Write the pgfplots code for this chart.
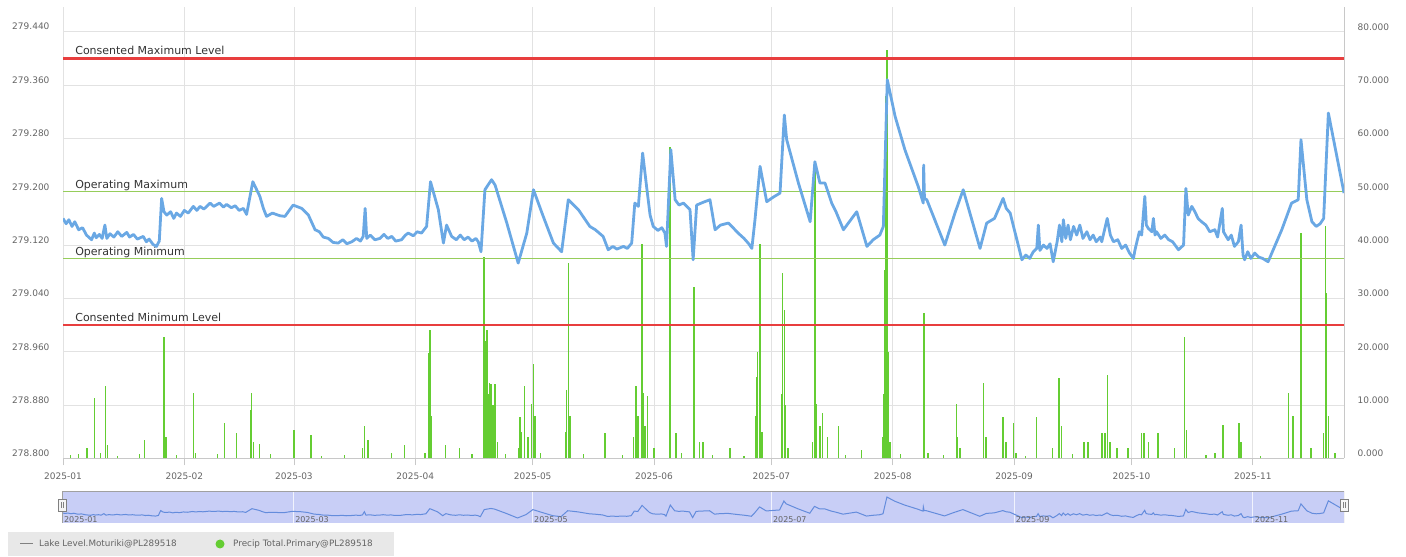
\documentclass[border=0pt]{standalone}
\usepackage{pgfplots}
\usepackage{pgfplotstable}
\pgfplotsset{compat=1.18}
\usepackage{fontspec}
\setmainfont{DejaVu Sans}
\definecolor{lakeblue}{RGB}{106,168,228}
\definecolor{navblue}{RGB}{100,140,220}
\definecolor{rainG}{RGB}{100,205,50}
\definecolor{redline}{RGB}{232,62,62}
\definecolor{opline}{RGB}{150,205,90}
\definecolor{gridc}{RGB}{226,226,226}
\definecolor{axisc}{RGB}{200,200,200}
\definecolor{tickc}{RGB}{100,100,100}
\definecolor{navfill}{RGB}{200,206,246}
\definecolor{legfill}{RGB}{232,232,232}

\pgfplotstableread{
x y
0.0 279.160
0.8 279.152
1.5 279.158
2.3 279.148
3.0 279.155
4.0 279.143
5.0 279.146
6.0 279.135
7.3 279.128
8.0 279.138
8.5 279.131
9.3 279.136
10.0 279.130
10.7 279.150
11.2 279.130
12.0 279.137
13.0 279.132
14.0 279.140
15.0 279.133
16.3 279.139
17.0 279.132
18.0 279.136
19.0 279.129
20.5 279.133
21.3 279.125
22.0 279.129
23.0 279.121
23.9 279.118
24.6 279.126
25.2 279.190
25.8 279.170
26.5 279.165
27.5 279.170
28.3 279.160
29.0 279.168
30.0 279.163
31.0 279.172
32.0 279.168
33.3 279.178
34.2 279.172
35.0 279.178
36.0 279.174
37.6 279.183
38.5 279.178
40.0 279.183
41.0 279.177
41.8 279.181
43.0 279.176
44.0 279.179
45.0 279.172
46.1 279.175
46.9 279.166
48.5 279.215
50.3 279.193
51.2 279.175
52.0 279.163
53.5 279.168
55.4 279.164
56.7 279.163
58.8 279.180
61.0 279.175
62.7 279.165
64.4 279.143
65.5 279.140
66.5 279.132
67.8 279.130
69.0 279.124
70.3 279.123
71.5 279.128
72.5 279.122
73.8 279.125
75.0 279.130
76.0 279.126
76.7 279.133
77.2 279.175
77.6 279.130
78.5 279.135
79.7 279.128
81.0 279.130
82.0 279.136
83.0 279.130
84.0 279.133
85.0 279.126
86.5 279.128
87.5 279.135
88.2 279.138
89.5 279.134
90.5 279.140
91.6 279.138
92.9 279.148
93.9 279.215
95.9 279.173
97.2 279.123
98.0 279.150
99.3 279.133
100.5 279.128
101.5 279.135
102.5 279.128
103.5 279.132
104.5 279.126
105.5 279.130
106.1 279.125
106.8 279.110
107.8 279.203
109.5 279.218
110.4 279.210
113.4 279.153
116.3 279.093
118.5 279.138
120.2 279.203
122.7 279.163
125.3 279.123
127.4 279.110
129.1 279.188
131.7 279.173
134.6 279.148
136.0 279.143
138.0 279.133
139.3 279.113
140.5 279.118
141.5 279.114
143.2 279.118
144.2 279.115
145.3 279.123
146.1 279.183
147.0 279.178
148.1 279.258
149.1 279.208
150.0 279.165
150.8 279.148
152.0 279.142
153.0 279.146
153.8 279.138
154.2 279.118
155.3 279.263
156.4 279.188
157.4 279.180
158.5 279.183
160.2 279.173
161.0 279.098
161.9 279.180
163.5 279.184
165.3 279.188
166.6 279.143
168.0 279.150
170.0 279.153
171.2 279.146
172.5 279.138
174.0 279.130
175.2 279.122
176.0 279.115
176.8 279.158
178.1 279.238
179.8 279.185
181.5 279.192
183.2 279.198
184.3 279.315
184.9 279.278
187.9 279.213
190.9 279.155
192.1 279.245
193.4 279.213
194.7 279.213
196.4 279.183
197.5 279.170
199.4 279.143
202.8 279.170
205.4 279.118
207.0 279.128
208.7 279.135
209.6 279.148
210.6 279.368
212.6 279.313
215.1 279.263
218.5 279.208
219.8 279.183
219.9 279.240
220.1 279.190
220.7 279.188
225.3 279.120
228.0 279.170
228.5 279.178
230.0 279.203
234.3 279.115
236.0 279.153
238.0 279.160
240.2 279.190
241.0 279.175
242.0 279.168
245.0 279.098
246.0 279.105
247.0 279.100
247.9 279.110
248.8 279.115
249.2 279.150
249.6 279.112
250.5 279.120
251.4 279.115
252.2 279.122
253.0 279.095
254.0 279.125
254.6 279.150
255.2 279.125
255.6 279.158
256.2 279.130
256.8 279.150
257.4 279.128
258.2 279.148
259.0 279.135
259.8 279.150
260.6 279.130
261.6 279.140
262.4 279.128
263.2 279.135
264.0 279.125
265.0 279.132
265.4 279.125
266.8 279.160
267.6 279.135
268.4 279.125
269.5 279.128
270.5 279.115
271.5 279.120
272.5 279.108
273.5 279.100
273.9 279.113
275.0 279.140
275.6 279.135
276.4 279.193
276.8 279.150
277.3 279.145
278.2 279.140
278.6 279.160
279.0 279.135
279.4 279.140
280.5 279.130
281.5 279.135
282.5 279.128
283.5 279.125
285.0 279.113
286.3 279.120
286.9 279.205
287.5 279.165
288.4 279.178
289.2 279.170
290.0 279.160
290.9 279.155
292.0 279.150
293.0 279.140
294.3 279.143
295.0 279.132
296.2 279.175
296.5 279.140
297.7 279.128
298.5 279.135
299.3 279.118
300.3 279.125
301.0 279.150
301.5 279.105
301.9 279.098
302.7 279.110
303.5 279.100
304.5 279.108
305.5 279.102
306.5 279.100
307.9 279.095
311.4 279.143
313.9 279.183
315.6 279.188
316.3 279.278
317.8 279.188
319.1 279.155
320.2 279.148
321.2 279.152
322.1 279.160
323.3 279.318
325.3 279.258
327.3 279.198
}\lake

\pgfplotstableread{
x y
2.0 0.6
4.0 0.8
6.1 1.9
8.0 11.3
9.5 1.0
10.9 13.5
11.3 2.5
14.0 0.5
19.5 0.8
20.8 3.5
25.7 13.0
25.8 22.8
26.3 4.0
29.0 0.6
33.3 12.2
33.8 1.0
39.5 0.8
41.2 6.6
44.4 4.7
47.9 9.0
48.2 12.2
48.7 3.0
50.2 2.8
53.0 0.8
59.0 5.3
63.4 4.4
66.0 0.5
72.0 0.6
76.5 2.0
77.0 6.0
77.9 3.5
84.0 1.0
87.2 2.5
92.5 1.0
93.5 19.7
93.8 24.1
94.2 8.0
97.8 2.5
101.3 1.9
104.5 0.8
107.4 4.0
107.6 37.8
107.8 22.0
108.3 24.0
108.6 12.0
108.9 14.1
109.1 14.0
109.5 14.0
109.9 10.0
110.4 14.0
111.0 3.0
113.0 0.8
116.3 2.0
116.8 7.8
117.2 5.0
117.9 13.5
118.8 4.0
119.7 10.3
120.2 17.8
120.6 8.0
122.0 1.0
128.5 5.0
128.7 12.8
129.1 36.6
129.5 8.0
133.0 0.8
138.5 4.7
143.0 0.6
145.7 4.0
146.4 13.5
146.9 8.0
147.9 40.3
148.2 12.2
148.7 6.0
149.3 11.7
151.0 2.0
155.1 58.4
155.2 16.5
156.6 4.7
158.0 1.0
161.2 32.2
161.3 14.7
162.7 3.0
163.5 3.0
166.0 0.6
170.4 1.9
174.0 0.5
177.0 8.0
177.2 15.3
177.4 20.0
178.1 40.3
178.6 5.0
183.6 12.0
183.8 34.7
184.3 27.8
184.6 10.0
185.2 2.0
191.5 3.0
192.1 55.3
192.6 10.3
193.4 6.0
194.0 8.5
195.4 4.0
198.1 6.0
200.0 0.6
204.1 1.5
209.5 4.0
209.8 12.0
210.0 35.3
210.3 68.0
210.5 76.6
210.7 45.0
210.9 20.0
211.3 3.0
214.0 0.8
220.0 27.2
221.0 1.0
225.0 0.6
228.3 10.3
228.6 4.0
229.2 2.0
235.1 14.1
235.8 4.0
240.2 7.8
240.9 3.0
242.8 6.6
243.5 1.0
246.0 0.5
248.8 7.8
252.9 2.0
254.5 15.0
255.2 6.0
258.0 0.8
260.9 3.0
261.9 3.0
265.5 4.7
266.2 4.7
266.8 15.7
267.5 3.0
269.3 2.0
272.1 2.0
275.6 4.7
276.2 4.7
277.3 3.0
279.8 4.7
283.9 2.0
286.5 22.8
287.1 5.3
292.0 0.6
294.3 1.0
296.4 6.3
300.5 6.6
301.0 3.0
306.0 0.5
313.1 12.2
314.3 8.0
316.3 42.2
316.5 36.0
318.9 2.0
322.1 4.7
322.6 43.5
322.8 31.0
323.3 8.0
325.0 1.0
}\rain

\begin{document}
\begin{tikzpicture}
\path (0pt,0pt) rectangle (1406pt,557pt);

% precipitation axis (right)
\begin{axis}[
  at={(63pt,98.5pt)}, anchor=south west, scale only axis,
  width=1281pt, height=451.5pt,
  xmin=0, xmax=327.3, ymin=0, ymax=84.65,
  axis x line=bottom, axis y line*=right,
  x axis line style={-, draw=axisc, line width=0.8pt},
  y axis line style={-, draw=axisc, line width=0.8pt},
  xtick={0,31,59,90,120,151,181,212,243,273,304},
  xticklabels={2025-01,2025-02,2025-03,2025-04,2025-05,2025-06,2025-07,2025-08,2025-09,2025-10,2025-11},
  ytick={0,10,20,30,40,50,60,70,80},
  xmajorgrids, ymajorgrids, grid style={draw=gridc, line width=0.8pt},
  xtick style={draw=axisc, line width=0.8pt},
  ytick style={draw=none},
  tick align=outside, major tick length=7pt,
  ticklabel style={font=\fontsize{9}{10}\selectfont, text=tickc},
  xticklabel style={yshift=-4pt},
  yticklabel style={anchor=west, xshift=3pt, yshift=5pt,
    /pgf/number format/fixed, /pgf/number format/fixed zerofill,
    /pgf/number format/precision=3},
  /pgf/number format/assume math mode=true,
  scaled y ticks=false,
]
\addplot[ycomb, draw=rainG, line width=1.3pt, no marks] table {\rain};
\end{axis}

% lake level axis (left)
\begin{axis}[
  at={(63pt,98.5pt)}, anchor=south west, scale only axis,
  width=1281pt, height=451.5pt,
  xmin=0, xmax=327.3, ymin=278.8, ymax=279.477,
  axis x line=none, axis y line*=left,
  y axis line style={draw=none},
  ytick={278.8,278.88,278.96,279.04,279.12,279.2,279.28,279.36,279.44},
  ytick style={draw=none},
  yticklabel style={font=\fontsize{9}{10}\selectfont, text=tickc, anchor=east, xshift=-10pt, yshift=5pt,
    /pgf/number format/fixed, /pgf/number format/fixed zerofill,
    /pgf/number format/precision=3, /pgf/number format/1000 sep={}},
  /pgf/number format/assume math mode=true,
  scaled y ticks=false,
]
\addplot[redline, line width=2.5pt, no marks] coordinates {(0,279.4) (327.3,279.4)};
\addplot[redline, line width=2.5pt, no marks] coordinates {(0,279.0) (327.3,279.0)};
\addplot[opline, line width=1.3pt, no marks] coordinates {(0,279.2) (327.3,279.2)};
\addplot[opline, line width=1.3pt, no marks] coordinates {(0,279.1) (327.3,279.1)};
\node[anchor=base west, inner sep=0pt, font=\fontsize{11}{12}\selectfont, text=black!80, yshift=3.5pt] at (axis cs:3.1,279.4) {Consented Maximum Level};
\node[anchor=base west, inner sep=0pt, font=\fontsize{11}{12}\selectfont, text=black!80, yshift=3pt] at (axis cs:3.1,279.2) {Operating Maximum};
\node[anchor=base west, inner sep=0pt, font=\fontsize{11}{12}\selectfont, text=black!80, yshift=3pt] at (axis cs:3.1,279.1) {Operating Minimum};
\node[anchor=base west, inner sep=0pt, font=\fontsize{11}{12}\selectfont, text=black!80, yshift=3.5pt] at (axis cs:3.1,279.0) {Consented Minimum Level};
\addplot[lakeblue, line width=2.8pt, line join=round, no marks] table {\lake};
\end{axis}

% navigator
\begin{axis}[
  at={(62pt,34pt)}, anchor=south west, scale only axis,
  width=1282pt, height=32pt,
  xmin=0, xmax=327.3, ymin=279.027, ymax=279.447,
  axis line style={draw=none},
  xtick={0,59,120,181,243,304}, ytick=\empty,
  xticklabels={}, xtick style={draw=none},
  xmajorgrids, grid style={draw=white!75!navfill, line width=0.6pt},
  axis background/.style={fill=navfill},
]
\addplot[navblue, line width=1pt, no marks] table {\lake};
\draw[axisc!80!black, line width=0.8pt] (rel axis cs:0,0) rectangle (rel axis cs:1,1);
\node[anchor=west, inner sep=0pt, font=\fontsize{8}{9}\selectfont, text=tickc] at (axis cs:0.5,279.07) {2025-01};
\node[anchor=west, inner sep=0pt, font=\fontsize{8}{9}\selectfont, text=tickc] at (axis cs:59.5,279.07) {2025-03};
\node[anchor=west, inner sep=0pt, font=\fontsize{8}{9}\selectfont, text=tickc] at (axis cs:120.5,279.07) {2025-05};
\node[anchor=west, inner sep=0pt, font=\fontsize{8}{9}\selectfont, text=tickc] at (axis cs:181.5,279.07) {2025-07};
\node[anchor=west, inner sep=0pt, font=\fontsize{8}{9}\selectfont, text=tickc] at (axis cs:243.5,279.07) {2025-09};
\node[anchor=west, inner sep=0pt, font=\fontsize{8}{9}\selectfont, text=tickc] at (axis cs:304.5,279.07) {2025-11};
\end{axis}
% navigator handles
\draw[gray, fill=white!92!gray] (58pt,46pt) rectangle (66pt,58pt);
\draw[gray] (61pt,49pt) -- (61pt,55pt) (63pt,49pt) -- (63pt,55pt);
\draw[gray, fill=white!92!gray] (1340pt,46pt) rectangle (1348pt,58pt);
\draw[gray] (1343pt,49pt) -- (1343pt,55pt) (1345pt,49pt) -- (1345pt,55pt);

% legend
\fill[legfill] (8pt,1pt) rectangle (394pt,25pt);
\draw[gray, line width=1pt] (20pt,13pt) -- (33pt,13pt);
\node[anchor=west, inner sep=0pt, font=\fontsize{8.8}{10}\selectfont, text=tickc] at (39pt,13pt) {Lake Level.Moturiki@PL289518};
\fill[rainG] (220pt,13pt) circle (4.5pt);
\node[anchor=west, inner sep=0pt, font=\fontsize{8.8}{10}\selectfont, text=tickc] at (233pt,13pt) {Precip Total.Primary@PL289518};
\end{tikzpicture}
\end{document}
